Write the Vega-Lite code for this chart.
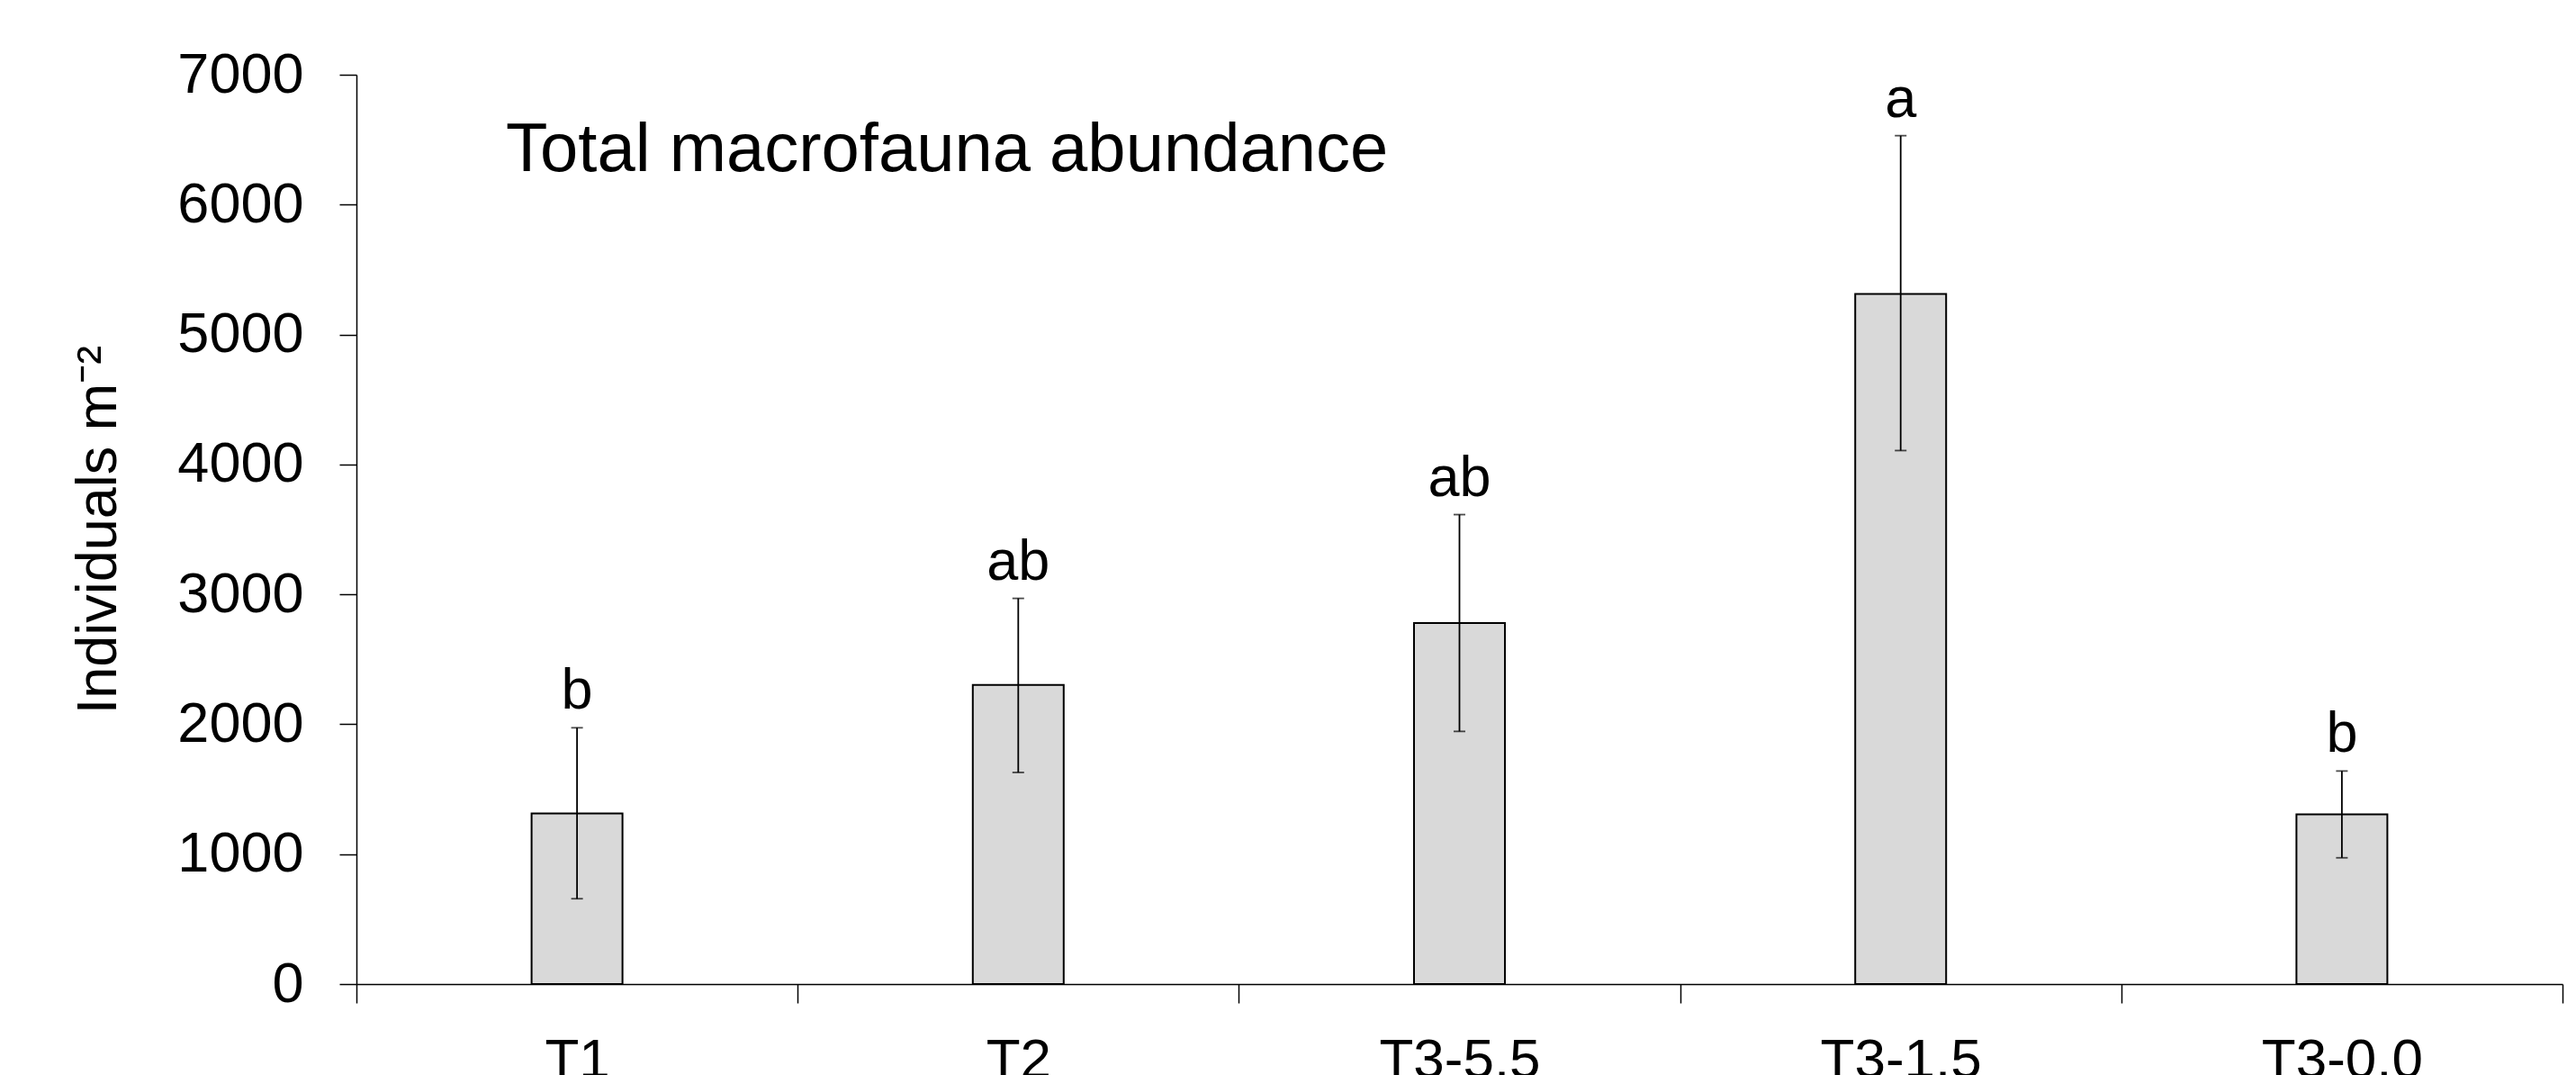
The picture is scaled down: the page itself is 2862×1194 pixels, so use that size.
{
  "$schema": "https://vega.github.io/schema/vega-lite/v6.json",
  "autosize": "none",
  "width": 2451,
  "height": 1010,
  "padding": {"left": 396, "top": 83, "right": 15, "bottom": 101},
  "background": "white",
  "title": {
    "text": "Total macrofauna abundance",
    "anchor": "start",
    "frame": "group",
    "align": "left",
    "baseline": "alphabetic",
    "font": "Liberation Sans",
    "fontSize": 76,
    "fontWeight": "normal",
    "color": "black",
    "offset": 0,
    "dx": 166,
    "dy": 214
  },
  "data": {
    "values": [
      {"site": "T1", "mean": 1314, "lo": 657, "hi": 1973, "letter": "b"},
      {"site": "T2", "mean": 2302, "lo": 1629, "hi": 2969, "letter": "ab"},
      {"site": "T3-5.5", "mean": 2779, "lo": 1945, "hi": 3614, "letter": "ab"},
      {"site": "T3-1.5", "mean": 5313, "lo": 4107, "hi": 6531, "letter": "a"},
      {"site": "T3-0.0", "mean": 1306, "lo": 972, "hi": 1640, "letter": "b"}
    ]
  },
  "encoding": {
    "x": {
      "field": "site",
      "type": "nominal",
      "sort": null,
      "scale": {"paddingInner": 0, "paddingOuter": 0},
      "axis": {
        "title": null,
        "labelAngle": 0,
        "tickBand": "extent",
        "tickSize": 21,
        "tickWidth": 1.5,
        "tickColor": "black",
        "domainColor": "black",
        "domainWidth": 1.5,
        "labelFont": "Liberation Sans",
        "labelFontSize": 62,
        "labelColor": "black",
        "labelPadding": 33,
        "labelBaseline": "top",
        "labelOverlap": false,
        "labelBound": false,
        "labelFlush": false,
        "grid": false
      }
    }
  },
  "layer": [
    {
      "mark": {"type": "bar", "size": 101, "fill": "#d9d9d9", "stroke": "black", "strokeWidth": 2},
      "encoding": {
        "y": {
          "field": "mean",
          "type": "quantitative",
          "scale": {"domain": [0, 7000], "nice": false, "zero": true},
          "axis": {
            "title": "Individuals m⁻²",
            "titleFont": "Liberation Sans",
            "titleFontSize": 63,
            "titleFontWeight": "normal",
            "titleColor": "black",
            "titlePadding": 55,
            "values": [0, 1000, 2000, 3000, 4000, 5000, 6000, 7000],
            "format": "d",
            "tickSize": 19,
            "tickWidth": 1.5,
            "tickColor": "black",
            "domainColor": "black",
            "domainWidth": 1.5,
            "labelFont": "Liberation Sans",
            "labelFontSize": 63,
            "labelColor": "black",
            "labelPadding": 40,
            "labelOverlap": false,
            "labelBound": false,
            "labelFlush": false,
            "grid": false
          }
        }
      }
    },
    {
      "mark": {"type": "rule", "color": "black", "strokeWidth": 1.8},
      "encoding": {
        "y": {"field": "lo", "type": "quantitative"},
        "y2": {"field": "hi"}
      }
    },
    {
      "mark": {"type": "tick", "orient": "horizontal", "color": "black", "size": 13, "thickness": 1.8},
      "encoding": {
        "y": {"field": "lo", "type": "quantitative"}
      }
    },
    {
      "mark": {"type": "tick", "orient": "horizontal", "color": "black", "size": 13, "thickness": 1.8},
      "encoding": {
        "y": {"field": "hi", "type": "quantitative"}
      }
    },
    {
      "mark": {"type": "text", "font": "Liberation Sans", "fontSize": 63, "color": "black", "baseline": "alphabetic", "align": "center", "dy": -21},
      "encoding": {
        "y": {"field": "hi", "type": "quantitative"},
        "text": {"field": "letter"}
      }
    }
  ],
  "config": {
    "view": {"stroke": null}
  }
}
